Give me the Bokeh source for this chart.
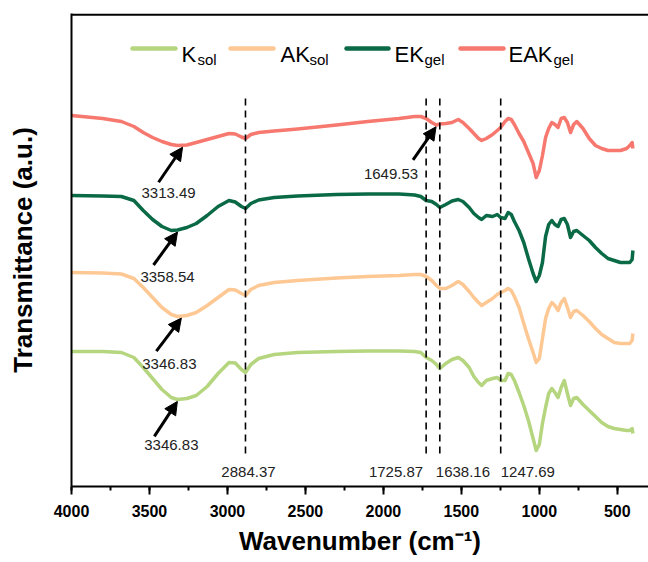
import numpy as np
from bokeh.plotting import figure
from bokeh.models import Range1d, SingleIntervalTicker, FixedTicker, Arrow, NormalHead
from bokeh.core.properties import value
from bokeh.embed import file_html
from bokeh.resources import INLINE

# ---------------- data ----------------
wavenumber = [4000, 3800, 3680, 3600, 3540, 3480, 3420, 3360, 3320, 3260, 3200, 3130, 3060, 2990, 2950,
              2910, 2884, 2850, 2800, 2700, 2550, 2300, 2100, 1900, 1800, 1760, 1726, 1690, 1660, 1638,
              1600, 1560, 1520, 1490, 1450, 1420, 1390, 1370, 1340, 1300, 1270, 1248, 1220, 1200, 1180,
              1160, 1130, 1100, 1070, 1040, 1020, 1000, 980, 960, 940, 920, 900, 880, 860, 840,
              820, 800, 780, 760, 720, 680, 640, 600, 560, 520, 480, 440, 420, 405, 400]

t_EAK = [371, 368, 365, 360, 354, 349, 345, 342, 341, 341.5, 344, 347, 350, 353, 352.5,
         349.5, 348, 352, 354, 355.5, 357.5, 361.5, 365, 368, 370, 370, 368, 364, 361.5, 362.5,
         363, 364, 367, 364, 358, 353, 348, 346, 348, 352, 356, 359, 365, 368, 367,
         362, 353, 345, 334, 323, 309, 316, 331, 349, 358, 364, 362, 359, 368, 369,
         364, 354, 362, 365, 358, 348, 341, 338, 336, 336, 336, 338, 341, 344, 338]

t_EK = [291, 290.5, 290, 286, 276, 267, 260, 256, 256.5, 259, 263, 271, 280, 286, 284.5,
        280, 278, 283, 286.5, 289, 290.5, 292, 292.5, 292.5, 291.5, 290, 286, 285, 282, 279,
        282, 285.5, 287, 285, 279, 273, 269, 267, 271, 270, 272, 269, 268, 274, 272,
        265, 256, 244, 228, 213, 205, 211, 224, 250, 262, 266, 262, 260, 267, 268,
        262, 249, 255, 256, 251, 246, 239, 233, 228, 226, 224, 224, 224, 227, 236]

t_AK = [214, 213.5, 212.5, 208, 199, 189, 179, 172, 170, 171, 174, 181, 189, 197, 196.5,
        193, 191, 197, 201, 204, 206, 208.5, 210, 211, 212, 212, 210, 206, 201, 198,
        198, 201, 205, 202, 195, 189, 184, 181, 184, 188, 192, 194, 196, 198, 196,
        190, 179, 163, 148, 134, 124, 128, 148, 168, 178, 184, 181, 176, 184, 188,
        179, 169, 175, 176, 171, 165, 158, 152, 148, 144, 143, 143, 143, 146, 153]

t_K = [135, 135, 134, 129, 119, 108, 97, 89, 87, 88, 91, 100, 113, 124, 123.5,
       117, 114, 122, 128, 132, 134, 135, 135.5, 135.5, 135, 134, 129, 126, 122, 118,
       123, 127, 129, 126, 119, 110, 104, 101, 106, 108, 109, 106, 106, 113, 112,
       106, 94, 81, 66, 48, 36, 42, 63, 79, 93, 98, 94, 89, 99, 106,
       93, 81, 88, 89, 82, 76, 70, 64, 60, 58, 57, 56, 56, 58, 53]

series_keys = ["K", "AK", "EK", "EAK"]
series_values = {"K": t_K, "AK": t_AK, "EK": t_EK, "EAK": t_EAK}
legend_main = ["K", "AK", "EK", "EAK"]
legend_sub = ["sol", "sol", "gel", "gel"]
colors = ["#b5d57f", "#fec894", "#0b6a46", "#f6786f"]

peak_lines = [2884.37, 1725.87, 1638.16, 1247.69]
peak_line_labels = ["2884.37", "1725.87", "1638.16", "1247.69"]

arrow_peaks = [3313.49, 3358.54, 3346.83, 3346.83, 1649.53]
arrow_series = ["EAK", "EK", "AK", "K", "EAK"]
arrow_labels = ["3313.49", "3358.54", "3346.83", "3346.83", "1649.53"]

x_major_ticks = [4000, 3500, 3000, 2500, 2000, 1500, 1000, 500]

# ---------------- layout constants ----------------
W, H = 648, 562
L, R, T, B = 71, 648, 13, 486
X0, X1 = 4000, 300
FONT = "Liberation Sans"

def dx_px(d):   # horizontal pixel offset -> wavenumber offset (axis reversed)
    return -d * (X0 - X1) / (R - L)

def px2x(px):
    return X0 + dx_px(px - L)

def py2y(py):
    return B - py

p = figure(width=W, height=H, output_backend="svg", toolbar_location=None, title=None,
           x_range=Range1d(X0, X1), y_range=Range1d(0, B - T),
           min_border_left=L, min_border_right=0, min_border_top=T, min_border_bottom=H - B)
p.outline_line_color = None
p.background_fill_color = "white"
p.border_fill_color = "white"
p.xgrid.visible = False
p.ygrid.visible = False

# x axis
xa = p.xaxis[0]
xa.ticker = SingleIntervalTicker(interval=500, num_minor_ticks=2)
xa.axis_line_width = 2
xa.axis_line_color = "black"
xa.major_tick_in = 0
xa.major_tick_out = 8
xa.minor_tick_in = 0
xa.minor_tick_out = 4
xa.major_tick_line_width = 2
xa.minor_tick_line_width = 2
xa.major_label_text_font = FONT
xa.major_label_text_font_style = "bold"
xa.major_label_text_font_size = "16px"
xa.major_label_text_color = "black"
xa.major_label_standoff = 10
xa.axis_label = "Wavenumber (cm\u207b\u00b9)"
xa.axis_label_text_font = FONT
xa.axis_label_text_font_style = "bold"
xa.axis_label_text_font_size = "26px"
xa.axis_label_text_color = "black"
xa.axis_label_standoff = 6

# y axis
ya = p.yaxis[0]
ya.ticker = FixedTicker(ticks=[])
ya.axis_line_width = 2
ya.axis_line_color = "black"
ya.major_tick_line_color = None
ya.minor_tick_line_color = None
ya.major_label_text_font_size = "0px"
ya.axis_label = "Transmittance (a.u.)"
ya.axis_label_text_font = FONT
ya.axis_label_text_font_style = "bold"
ya.axis_label_text_font_size = "26px"
ya.axis_label_text_color = "black"
ya.axis_label_standoff = 34

# top border of the frame (kept just inside the frame so it is not clipped)
p.segment(x0=[X0], x1=[X1], y0=[B - T - 1.2], y1=[B - T - 1.2], line_color="black", line_width=2.2)

# spectra
for key, col in zip(series_keys, colors):
    p.line(wavenumber, series_values[key], line_color=col, line_width=3.5, line_join="round")

# dashed reference lines
p.segment(x0=peak_lines, x1=peak_lines, y0=[py2y(453)] * len(peak_lines), y1=[py2y(95)] * len(peak_lines),
          line_color="black", line_width=1.6, line_dash="7 5")

# labels under dashed lines
lab_dx = [3, -3, -4, 0]
lab_align = ["center", "right", "left", "left"]
for wn, txt, d, al in zip(peak_lines, peak_line_labels, lab_dx, lab_align):
    p.text(x=[wn + dx_px(d)], y=[py2y(471)], text=[txt], text_font=value(FONT), text_font_size="15px",
           text_align=al, text_baseline="middle", text_color="#222222")

# arrows with labels
head_dx = [4, 6, 8, 4, -2]
tail_off = [(-24, 35), (-24, 33), (-25, 33), (-23, 35), (-23, 33)]
label_off = [(-14, 46), (-10, 45), (-12, 46), (-6, 44), (-45, 47)]
wn_arr = np.array(wavenumber[::-1], dtype=float)
for pk, sk, txt, hd, to, lo in zip(arrow_peaks, arrow_series, arrow_labels, head_dx, tail_off, label_off):
    hx = pk + dx_px(hd)
    vals = np.array(series_values[sk][::-1], dtype=float)
    hy = float(np.interp(hx, wn_arr, vals)) - 2
    tx, ty = hx + dx_px(to[0]), hy - to[1]
    p.add_layout(Arrow(end=NormalHead(size=13, fill_color="black", line_color="black", line_width=1),
                       x_start=tx, y_start=ty, x_end=hx, y_end=hy, line_width=3, line_color="black"))
    p.text(x=[hx + dx_px(lo[0])], y=[hy - lo[1]], text=[txt], text_font=value(FONT), text_font_size="15px",
           text_align="center", text_baseline="middle", text_color="#222222")

# manual legend (with subscripts)
leg_line_px = [(132, 175), (230, 273), (346, 388), (460, 503)]
leg_text_px = [181, 280, 394, 508]
leg_sub_px = [197, 309, 424, 553]
leg_y = 48
for (a, b), tx, sx, m, s, col in zip(leg_line_px, leg_text_px, leg_sub_px, legend_main, legend_sub, colors):
    p.segment(x0=[px2x(a)], x1=[px2x(b)], y0=[py2y(leg_y)], y1=[py2y(leg_y)], line_color=col, line_width=4.5,
              line_cap="round")
    p.text(x=[px2x(tx)], y=[py2y(54)], text=[m], text_font=value(FONT), text_font_size="22px",
           text_align="left", text_baseline="alphabetic", text_color="black")
    p.text(x=[px2x(sx)], y=[py2y(59)], text=[s], text_font=value(FONT), text_font_size="15px",
           text_align="left", text_baseline="alphabetic", text_color="black")

open("out.html", "w").write(file_html(p, INLINE))
